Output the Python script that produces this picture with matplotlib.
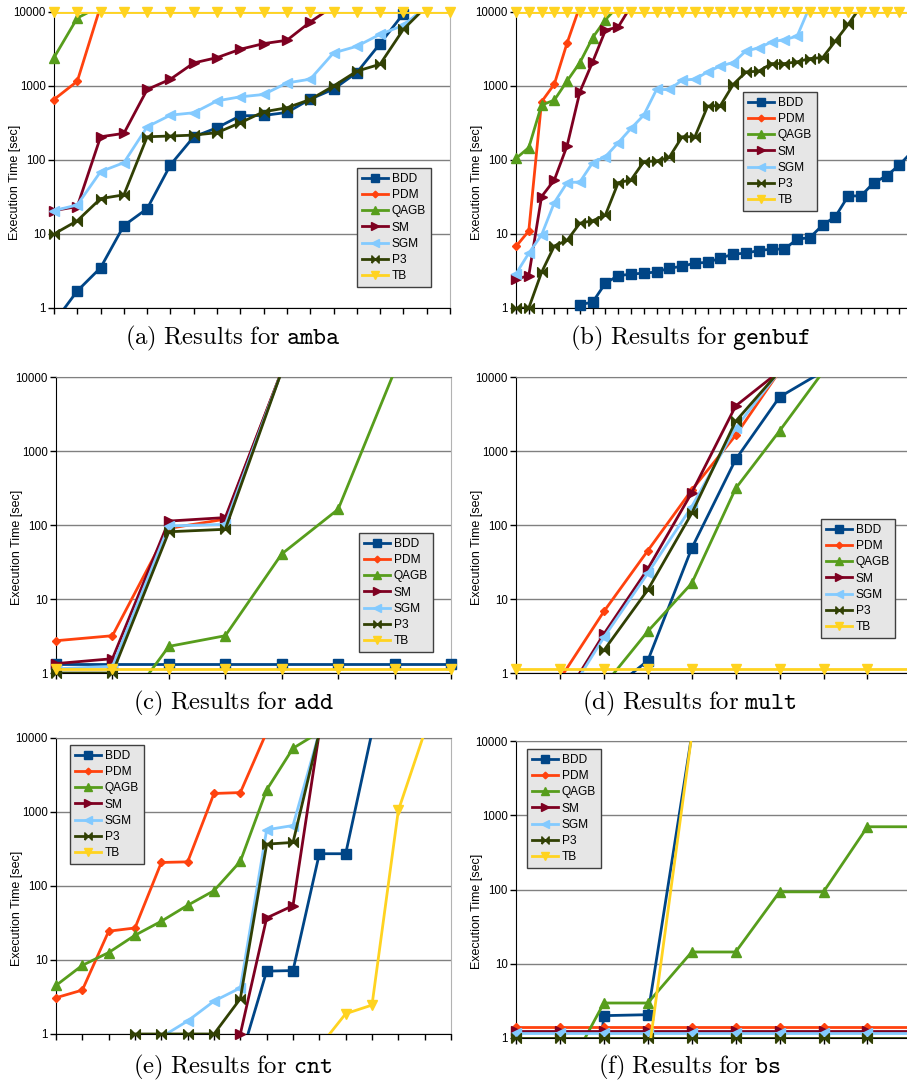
import numpy as np
import matplotlib
matplotlib.use('Agg')
import matplotlib.pyplot as plt
from matplotlib.lines import Line2D
from matplotlib.ticker import NullLocator

plt.rcParams['font.family'] = ['Liberation Sans', 'DejaVu Sans']
plt.rcParams['mathtext.fontset'] = 'cm'

nan = np.nan

series = ['BDD', 'PDM', 'QAGB', 'SM', 'SGM', 'P3', 'TB']

# execution times [sec], values above 10000 are timeouts (off the chart)
amba = {
    'BDD': [0.64, 1.7, 3.5, 13, 22, 86, 206, 273, 396, 400, 439, 664, 906, 1520, 3740, 9500, 12000, 12000],
    'PDM': [657, 1160, 12000, 12000, 12000, 12000, 12000, 12000, 12000, 12000, 12000, 12000, 12000, 12000, 12000, 12000, 12000, 12000],
    'QAGB': [2420, 8300, 12000, 12000, 12000, 12000, 12000, 12000, 12000, 12000, 12000, 12000, 12000, 12000, 12000, 12000, 12000, 12000],
    'SM': [20.7, 23.5, 206, 229, 897, 1236, 2050, 2420, 3140, 3740, 4150, 7330, 12000, 12000, 12000, 12000, 12000, 12000],
    'SGM': [20.7, 24.7, 69.6, 92, 281, 404, 435, 630, 714, 768, 1100, 1236, 2800, 3440, 5000, 6600, 12000, 12000],
    'P3': [10, 15.1, 30.1, 33.8, 206, 211, 217, 234, 319, 448, 508, 657, 1000, 1585, 1970, 5840, 12000, 12000],
    'TB': [10000, 10000, 10000, 10000, 10000, 10000, 10000, 10000, 10000, 10000, 10000, 10000, 10000, 10000, 10000, 10000, 10000, 10000],
}

genbuf = {
    'BDD': [nan, nan, nan, nan, nan, 1.11, 1.2, 2.17, 2.73, 2.87, 2.96, 3.06, 3.46, 3.65, 4.05, 4.13,
            4.73, 5.34, 5.52, 5.98, 6.24, 6.24, 8.5, 8.95, 13.2, 17.2, 32.7, 32.7, 49.4, 60.9, 85.6, 130],
    'PDM': [6.78, 11.0, 612, 1060, 3820, 12000, 12000, 12000, 12000, 12000, 12000, 12000, 12000, 12000, 12000, 12000,
            12000, 12000, 12000, 12000, 12000, 12000, 12000, 12000, 12000, 12000, 12000, 12000, 12000, 12000, 12000, 12000],
    'QAGB': [105, 147, 552, 645, 1170, 2070, 4500, 7880, 12000, 12000, 12000, 12000, 12000, 12000, 12000, 12000,
             12000, 12000, 12000, 12000, 12000, 12000, 12000, 12000, 12000, 12000, 12000, 12000, 12000, 12000, 12000, 12000],
    'SM': [2.46, 2.73, 32, 53.7, 156, 834, 2120, 5660, 6280, 12000, 12000, 12000, 12000, 12000, 12000, 12000,
           12000, 12000, 12000, 12000, 12000, 12000, 12000, 12000, 12000, 12000, 12000, 12000, 12000, 12000, 12000, 12000],
    'SGM': [2.9, 5.5, 9.7, 26.6, 49.4, 50.5, 92, 111, 171, 267, 404, 897, 897, 1200, 1236, 1550,
            1870, 2070, 2980, 3270, 3940, 4240, 4700, 12000, 12000, 12000, 12000, 12000, 12000, 12000, 12000, 12000],
    'P3': [1, 1, 3.03, 6.9, 8.2, 14, 15.1, 18.1, 49.4, 53.7, 95, 97, 109, 206, 206, 535,
           545, 1050, 1550, 1585, 2010, 2010, 2120, 2350, 2420, 4060, 6820, 12000, 12000, 12000, 12000, 12000],
    'TB': [10000, 10000, 10000, 10000, 10000, 10000, 10000, 10000, 10000, 10000, 10000, 10000, 10000, 10000, 10000, 10000,
           10000, 10000, 10000, 10000, 10000, 10000, 10000, 10000, 10000, 10000, 10000, 10000, 10000, 10000, 10000, 10000],
}

add = {
    'BDD': [1.34, 1.34, 1.34, 1.34, 1.34, 1.34, 1.34, 1.34],
    'PDM': [2.73, 3.19, 90, 120, 12000, 12000, 12000, 12000],
    'QAGB': [0.21, 0.21, 2.29, 3.19, 40.6, 163, 12000, 12000],
    'SM': [1.34, 1.56, 113, 126, 12000, 12000, 12000, 12000],
    'SGM': [1.14, 1.23, 97, 102, 12000, 12000, 12000, 12000],
    'P3': [1, 1, 81, 87.5, 12000, 12000, 12000, 12000],
    'TB': [1.13, 1.13, 1.13, 1.13, 1.13, 1.13, 1.13, 1.13],
}

mult = {
    'BDD': [nan, nan, 0.49, 1.47, 48.5, 768, 5370, 12000, 12000, 12000],
    'PDM': [nan, 0.83, 6.78, 45, 297, 1630, 12000, 12000, 12000, 12000],
    'QAGB': [nan, nan, 0.675, 3.65, 16.3, 312, 1870, 12000, 12000, 12000],
    'SM': [nan, 0.37, 3.36, 25.5, 273, 4060, 12000, 12000, 12000, 12000],
    'SGM': [nan, 0.34, 3.03, 22.3, 177, 2050, 12000, 12000, 12000, 12000],
    'P3': [nan, nan, 2.02, 13.3, 144, 2520, 12000, 12000, 12000, 12000],
    'TB': [1.13, 1.13, 1.13, 1.13, 1.13, 1.13, 1.13, 1.13, 1.13, 1.13],
}

cnt = {
    'BDD': [nan, nan, nan, nan, nan, nan, nan, 0.45, 7.07, 7.2, 273, 273, 12000, 12000, 12000, 12000],
    'PDM': [3.09, 3.92, 24.5, 27.1, 208, 212, 1780, 1830, 12000, 12000, 12000, 12000, 12000, 12000, 12000, 12000],
    'QAGB': [4.53, 8.47, 12.6, 21.6, 33.4, 54.9, 86.5, 215, 1990, 7260, 12000, 12000, 12000, 12000, 12000, 12000],
    'SM': [nan, nan, nan, nan, nan, nan, nan, 1, 37, 54.3, 12000, 12000, 12000, 12000, 12000, 12000],
    'SGM': [nan, nan, nan, nan, 0.91, 1.5, 2.78, 4.2, 575, 657, 12000, 12000, 12000, 12000, 12000, 12000],
    'P3': [nan, nan, nan, 1, 1, 1, 1, 3.0, 368, 388, 12000, 12000, 12000, 12000, 12000, 12000],
    'TB': [nan, nan, nan, nan, nan, nan, nan, nan, nan, nan, 0.67, 1.88, 2.46, 1050, 12000, 12000],
}

bs = {
    'BDD': [nan, 1e-5, 2.0, 2.06, 12000, 12000, 12000, 12000, 12000, 12000],
    'PDM': [1.41, 1.41, 1.41, 1.41, 1.41, 1.41, 1.41, 1.41, 1.41, 1.41],
    'QAGB': [nan, 0.235, 2.96, 2.96, 14.4, 14.4, 93, 93, 700, 700],
    'SM': [1.23, 1.23, 1.23, 1.23, 1.23, 1.23, 1.23, 1.23, 1.23, 1.23],
    'SGM': [1.17, 1.17, 1.17, 1.17, 1.17, 1.17, 1.17, 1.17, 1.17, 1.17],
    'P3': [1, 1, 1, 1, 1, 1, 1, 1, 1, 1],
    'TB': [nan, nan, nan, 0.5, 12000, 12000, 12000, 12000, 12000, 12000],
}

colors = {'BDD': '#004586', 'PDM': '#ff420e', 'QAGB': '#579d1c', 'SM': '#7e0021',
          'SGM': '#83caff', 'P3': '#314004', 'TB': '#ffd320'}
bowtie = [(-1, -1), (1, 1), (1, -1), (-1, 1), (-1, -1)]
markers = {'BDD': ('s', 7.5), 'PDM': ('D', 4.5), 'QAGB': ('^', 7.5), 'SM': ('>', 7.5),
           'SGM': ('<', 7.5), 'P3': (bowtie, 7), 'TB': ('v', 7.5)}

W, H = 907, 1082
fig = plt.figure(figsize=(W / 100, H / 100), dpi=100)

# panel: data, letter, benchmark, (left, top, right, bottom) px, xmax, legend (x, y) px, caption x, y
panels = [
    (amba, 'a', 'amba', (54, 12, 450, 308), 17, (357, 168), 233, 338),
    (genbuf, 'b', 'genbuf', (516, 12, 907, 308), 30.6, (743, 92), 690, 338),
    (add, 'c', 'add', (56, 377, 451, 673), 7, (359, 533), 233, 703),
    (mult, 'd', 'mult', (516, 377, 907, 673), 8.9, (821, 519), 690, 703),
    (cnt, 'e', 'cnt', (56, 738, 451, 1034), 15, (70, 745), 233, 1067),
    (bs, 'f', 'bs', (516, 741, 907, 1038), 8.9, (527, 749), 690, 1067),
]

for data, letter, bench, (l, t, r, b), xmax, (lx, ly), cx, cy in panels:
    ax = fig.add_axes([l / W, 1 - b / H, (r - l) / W, (b - t) / H])
    for i, name in enumerate(series):
        y = np.array(data[name], dtype=float)
        x = np.arange(len(y))
        z = 3 + i * 0.1
        ax.plot(x, y, color=colors[name], lw=2, zorder=z)
        ok = (y >= 0.999) & (y <= 10000.5) & (x <= xmax + 0.01)
        m, ms = markers[name]
        ax.plot(x[ok], y[ok], ls='none', marker=m, ms=ms, color=colors[name],
                mec=colors[name], zorder=z, clip_on=False)
    ax.set_yscale('log')
    ax.set_ylim(1, 10000)
    ax.set_xlim(0, xmax)
    ax.set_yticks([1, 10, 100, 1000, 10000], labels=['1', '10', '100', '1000', '10000'])
    ax.yaxis.set_minor_locator(NullLocator())
    ax.set_xticks(np.arange(0, int(xmax) + 1))
    ax.set_xticklabels([])
    ax.tick_params(axis='both', direction='out', length=4, width=1, labelsize=8.3, pad=2)
    ax.yaxis.grid(True, color='#808080', lw=1)
    ax.set_axisbelow(True)
    ax.spines['left'].set_color('black')
    ax.spines['bottom'].set_color('black')
    ax.spines['top'].set_color('#808080')
    ax.spines['right'].set_color('#b3b3b3')
    if r >= W:
        ax.spines['right'].set_visible(False)

    handles = []
    for name in series:
        m, ms = markers[name]
        handles.append(Line2D([], [], color=colors[name], lw=2, marker=m, ms=ms * 0.75,
                              mec=colors[name]))
    leg = ax.legend(handles, series, loc='upper left', bbox_to_anchor=(lx / W, 1 - ly / H),
                    bbox_transform=fig.transFigure, fontsize=8.6, frameon=True, fancybox=False,
                    facecolor='#e6e6e6', edgecolor='#404040', framealpha=1,
                    handlelength=2.2, handletextpad=0.3, labelspacing=0.35,
                    borderpad=0.42, borderaxespad=0, numpoints=1)
    leg.get_frame().set_linewidth(1)
    leg.set_zorder(10)

    fig.text((l - 39) / W, 1 - (t + 170) / H, 'Execution Time [sec]', rotation=90,
             ha='center', va='center', fontsize=9)
    fig.text(cx / W, 1 - cy / H,
             r'$\mathrm{(' + letter + r')\ Results\ for\ }\mathtt{' + bench + '}$',
             ha='center', va='center', fontsize=17.8)

fig.savefig('out.png', dpi=100)
